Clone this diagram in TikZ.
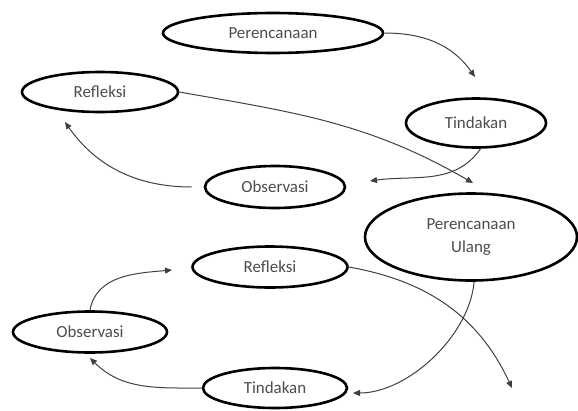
\documentclass[tikz,border=0pt]{standalone}
\usepackage{fontspec}
\setmainfont{Carlito}
\usetikzlibrary{shapes.geometric,arrows.meta}
\begin{document}
\begin{tikzpicture}[x=1bp,y=1bp,
  oval/.style={ellipse,draw=black,line width=2.6bp,inner sep=0pt,
    text=black!70,font=\fontsize{17}{24}\selectfont,align=center},
  conn/.style={draw=black!75,line width=1bp,
    -{Triangle[length=7bp,width=6bp]}}]
\useasboundingbox (0,0) rectangle (578,410);
% nodes
\node[oval,minimum width=220bp,minimum height=40bp] (P1) at (273,377) {Perencanaan};
\node[oval,minimum width=156bp,minimum height=40bp] (R1) at (100,318) {Refleksi};
\node[oval,minimum width=140bp,minimum height=49bp] (T1) at (476,287) {Tindakan};
\node[oval,minimum width=140bp,minimum height=42bp] (O1) at (275,223) {Observasi};
\node[oval,minimum width=212bp,minimum height=87bp] (PU) at (471,173) {Perencanaan\\Ulang};
\node[oval,minimum width=155bp,minimum height=41bp] (R2) at (270,143) {Refleksi};
\node[oval,minimum width=154bp,minimum height=41bp] (O2) at (90,78) {Observasi};
\node[oval,minimum width=144bp,minimum height=40bp] (T2) at (275,22) {Tindakan};
% free ends
\coordinate (c1) at (475,333);
\coordinate (c2) at (370,229);
\coordinate (c3) at (65,288);
\coordinate (c4) at (473,227);
\coordinate (c5) at (353,17);
\coordinate (c6) at (90,52);
\coordinate (c7) at (172,140);
\coordinate (c8) at (512,22);
% connectors
\draw[conn] (P1.east) to[out=0,in=125] (c1);
\draw[conn] (T1.-80) to[out=-125,in=8] (c2);
\draw[conn,shorten <=12bp] (O1.west) to[out=180,in=-55] (c3);
\draw[conn] (R1.east) to[out=-10,in=150] (c4);
\draw[conn] (PU.-86) to[out=-95,in=0,looseness=0.85] (c5);
\draw[conn] (T2.west) to[out=180,in=-45] (c6);
\draw[conn] (O2.north) to[out=80,in=185] (c7);
\draw[conn] (R2.east) to[out=-10,in=115] (c8);
\end{tikzpicture}
\end{document}
